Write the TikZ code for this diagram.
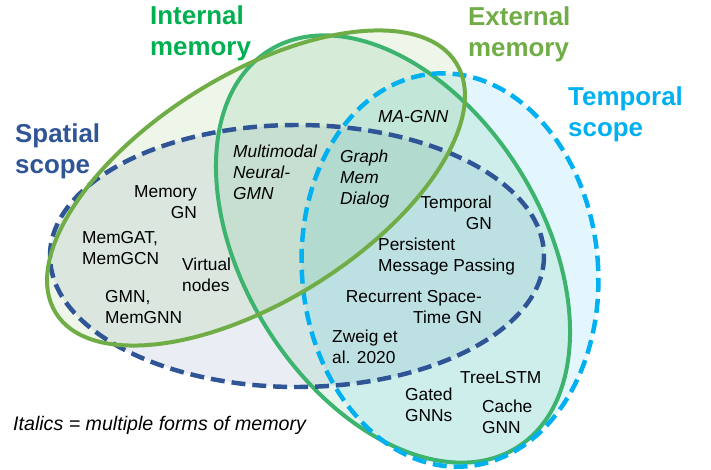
\documentclass[tikz,border=0pt]{standalone}
\usepackage{fontspec}
\setmainfont{Liberation Sans}
\usepackage{tikz}

\definecolor{spatialblue}{RGB}{47,85,151}
\definecolor{temporalblue}{RGB}{0,176,240}
\definecolor{internalgreen}{RGB}{0,176,80}
\definecolor{ringgreen}{RGB}{60,180,110}
\definecolor{externalolive}{RGB}{112,173,71}

\tikzset{
  heading/.style={font=\fontsize{26}{31}\selectfont\bfseries, align=left, inner sep=0pt},
  model/.style={font=\fontsize{17.4}{21}\selectfont, inner sep=0pt},
  multimodel/.style={font=\fontsize{17.4}{21}\selectfont\itshape, inner sep=0pt},
  ring/.style={line width=4pt},
  dashring/.style={line width=4.5pt, dash pattern=on 14pt off 7pt},
}

\begin{document}
\begin{tikzpicture}[x=1bp,y=-1bp]
    \useasboundingbox (0,0) rectangle (711,470);
    \fill[spatialblue, fill opacity=0.1] (297,256) ellipse [x radius=247, y radius=131];
    \fill[temporalblue, fill opacity=0.11, rotate around={5:(450,270)}] (450,270) ellipse [x radius=148, y radius=197];
    \fill[ringgreen, fill opacity=0.13, rotate around={-58:(393,249)}] (393,249) ellipse [x radius=234, y radius=149];
    \fill[externalolive, fill opacity=0.12, rotate around={32:(256,188)}] (256,188) ellipse [x radius=236, y radius=113];
    \draw[ring, ringgreen, rotate around={-58:(393,249)}] (393,249) ellipse [x radius=234, y radius=149];
    \draw[dashring, temporalblue, rotate around={5:(450,270)}] (450,270) ellipse [x radius=148, y radius=197];
    \draw[dashring, spatialblue] (297,256) ellipse [x radius=247, y radius=131];
    \draw[ring, externalolive, rotate around={32:(256,188)}] (256,188) ellipse [x radius=236, y radius=113];

    \node[heading, text=internalgreen, anchor=north west] (internal) at (150,5.5) {Internal\\memory};
    \node[heading, text=externalolive, anchor=north west] (external) at (468,6.5) {External\\memory};
    \node[heading, text=temporalblue, anchor=north west] (temporal) at (568,86.5) {Temporal\\scope};
    \node[heading, text=spatialblue, anchor=north west] (spatial) at (15,123.5) {Spatial\\scope};

    \node[model, align=right, anchor=north east] (memgn) at (197,185) {Memory\\GN};
    \node[multimodel, align=left, anchor=north west] (multimodal) at (233,145) {Multimodal\\Neural-\\GMN};
    \node[multimodel, align=left, anchor=north west] (graphmem) at (340,150) {Graph\\Mem\\Dialog};
    \node[multimodel, anchor=north west] (magnn) at (378,110) {MA-GNN};
    \node[model, align=right, anchor=north east] (temporalgn) at (492,196) {Temporal\\GN};
    \node[model, align=left, anchor=north west] (persistent) at (378,238) {Persistent\\Message Passing};
    \node[model, align=right, anchor=north east] (recurrent) at (482,290) {Recurrent Space-\\Time GN};
    \node[model, align=left, anchor=north west] (zweig) at (332,330) {Zweig et\\al. 2020};
    \node[model, anchor=north west] (treelstm) at (460,371) {TreeLSTM};
    \node[model, align=left, anchor=north west] (gated) at (405,388) {Gated\\GNNs};
    \node[model, align=left, anchor=north west] (cache) at (482,400) {Cache\\GNN};
    \node[model, align=left, anchor=north west] (memgat) at (82,231) {MemGAT,\\MemGCN};
    \node[model, align=left, anchor=north west] (virtual) at (182,258) {Virtual\\nodes};
    \node[model, align=left, anchor=north west] (gmn) at (105,290) {GMN,\\MemGNN};

    \node[font=\fontsize{19.7}{23}\selectfont\itshape, inner sep=0pt, anchor=north west] (legend) at (13,416) {Italics = multiple forms of memory};
  \end{tikzpicture}
\end{document}
